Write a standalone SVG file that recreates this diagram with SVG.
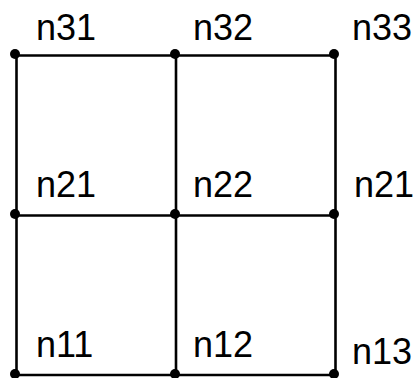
<svg xmlns="http://www.w3.org/2000/svg" width="417" height="378" viewBox="0 0 417 378">
  <style>
    .edge { stroke: #000; stroke-width: 2.6; fill: none; }
    .node { fill: #000; }
    .label { font-family: "Liberation Sans", Arial, sans-serif; font-size: 36px; fill: #000; }
  </style>
  <rect width="417" height="378" fill="#fff"/>
  <g id="connectors">
    <line class="edge" x1="15" y1="55.5" x2="335.5" y2="55.5"/>
    <line class="edge" x1="15" y1="215.5" x2="335.5" y2="215.5"/>
    <line class="edge" x1="15" y1="375" x2="335.5" y2="375"/>
    <line class="edge" x1="16.5" y1="54" x2="16.5" y2="378"/>
    <line class="edge" x1="176" y1="54" x2="176" y2="378"/>
    <line class="edge" x1="335.5" y1="54" x2="335.5" y2="378"/>
  </g>
  <g id="n31"><circle class="node" cx="15" cy="54" r="5"/><text class="label" x="36" y="40">n31</text></g>
  <g id="n32"><circle class="node" cx="175" cy="54" r="5"/><text class="label" x="193" y="40">n32</text></g>
  <g id="n33"><circle class="node" cx="334" cy="54" r="5"/><text class="label" x="352" y="40">n33</text></g>
  <g id="n21"><circle class="node" cx="15" cy="214" r="5"/><text class="label" x="36" y="197">n21</text></g>
  <g id="n22"><circle class="node" cx="175" cy="214" r="5"/><text class="label" x="193" y="197">n22</text></g>
  <g id="n23"><circle class="node" cx="334" cy="214" r="5"/><text class="label" x="354" y="197">n21</text></g>
  <g id="n11"><circle class="node" cx="15" cy="374" r="5"/><text class="label" x="36" y="357">n11</text></g>
  <g id="n12"><circle class="node" cx="175" cy="374" r="5"/><text class="label" x="193" y="357">n12</text></g>
  <g id="n13"><circle class="node" cx="334" cy="374" r="5"/><text class="label" x="352" y="364">n13</text></g>
</svg>
